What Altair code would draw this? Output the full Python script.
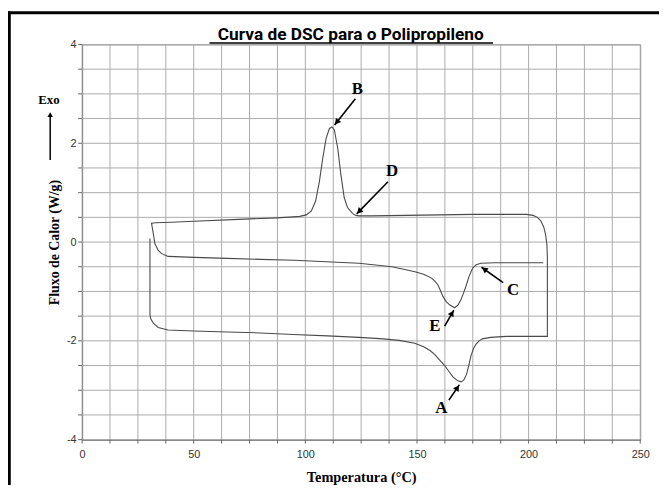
import math
import altair as alt
import pandas as pd

# ---- DSC loop (temperature in °C, heat flow in W/g), in drawing order ----
temps = [
    30.4, 30.4, 30.8, 31.9, 34.1, 38.5, 50, 65, 80, 94.5,
    110, 124, 135, 142, 149, 153, 156, 158, 160, 162.4,
    164.5, 166.1, 168.3, 169.8, 171, 172.2, 173.2, 174.2, 175.3, 176.4,
    177.8, 179.3, 183, 190, 200, 208.4,
    208.4, 208.2, 207.6, 206.8, 205.6, 204, 202, 199,
    190, 175, 160, 145, 130, 124, 122.6, 121.1, 118.9, 117.4,
    115.9, 114.5, 113, 111.9, 110.8, 109.3, 107.8, 106.3, 104.6, 102.7,
    100.4, 97.5, 94.5, 87.2, 70, 50, 40, 33, 31.1,
    31.9, 32.6, 34.1, 35.5, 38.5, 50.3, 65, 79.8, 95, 109.3,
    124, 138.8, 149.1, 153, 156.5, 158, 159.4, 160.5, 161.6, 163,
    164.6, 166.8, 168.3, 169.7, 170.8, 171.9, 173.3, 174.9, 176.5, 178.6,
    185, 195, 206.6,
]
flux = [
    0.07, -1.47, -1.56, -1.64, -1.73, -1.78, -1.8, -1.82, -1.84, -1.87,
    -1.9, -1.93, -1.96, -1.99, -2.05, -2.12, -2.2, -2.28, -2.38, -2.5,
    -2.63, -2.73, -2.81, -2.83, -2.79, -2.68, -2.5, -2.3, -2.16, -2.07,
    -2.0, -1.96, -1.93, -1.91, -1.91, -1.91,
    -0.3, -0.05, 0.15, 0.3, 0.42, 0.5, 0.54, 0.56,
    0.56, 0.56, 0.55, 0.54, 0.53, 0.53, 0.54, 0.58, 0.7, 0.9,
    1.37, 1.9, 2.27, 2.33, 2.3, 2.1, 1.7, 1.23, 0.83, 0.63,
    0.55, 0.52, 0.51, 0.49, 0.46, 0.42, 0.4, 0.39, 0.38,
    0.17, -0.03, -0.17, -0.23, -0.29, -0.31, -0.33, -0.35, -0.37, -0.4,
    -0.43, -0.5, -0.6, -0.65, -0.73, -0.79, -0.87, -0.98, -1.1, -1.2,
    -1.27, -1.33, -1.28, -1.17, -1.04, -0.9, -0.7, -0.53, -0.46, -0.43,
    -0.42, -0.42, -0.42,
]

# ---- annotations ----
label_text = ["A", "B", "C", "D", "E"]
label_x = [160.9, 123.3, 193.0, 138.8, 158.0]
label_y = [-3.37, 3.1, -0.98, 1.43, -1.71]
arrow_x1 = [164.3, 122.4, 188.6, 137.0, 162.4]
arrow_y1 = [-3.2, 2.9, -0.82, 1.22, -1.70]
arrow_x2 = [169.0, 113.1, 178.9, 123.0, 166.5]
arrow_y2 = [-2.89, 2.37, -0.51, 0.57, -1.38]

# grid / tick positions and labelled values
x_ticks = [i * 12.5 for i in range(21)]
y_ticks = [-4 + i * 0.5 for i in range(17)]
x_labels = [0, 50, 100, 150, 200, 250]
y_labels = [-4, -2, 0, 2, 4]

W, H = 565, 400
X_DOM, Y_DOM = [0, 250], [-4, 4]
kx = W / (X_DOM[1] - X_DOM[0])
ky = H / (Y_DOM[1] - Y_DOM[0])

curve = pd.DataFrame({"T": temps, "Q": flux, "o": list(range(len(temps)))})
labels = pd.DataFrame({"t": label_text, "x": label_x, "y": label_y})
gx = pd.DataFrame({"v": x_ticks})
gy = pd.DataFrame({"v": y_ticks})

heads = []
for x1, y1, x2, y2 in zip(arrow_x1, arrow_y1, arrow_x2, arrow_y2):
    dxp = (x2 - x1) * kx
    dyp = -(y2 - y1) * ky
    L = math.hypot(dxp, dyp)
    ux, uy = dxp / L, dyp / L
    ang = math.degrees(math.atan2(dxp, -dyp)) % 360
    back = 3.5
    heads.append({"x": x2 - ux * back / kx, "y": y2 + uy * back / ky, "a": ang})
arrows = pd.DataFrame({"x1": arrow_x1, "y1": arrow_y1, "x2": arrow_x2, "y2": arrow_y2})
heads = pd.DataFrame(heads)

xs = alt.Scale(domain=X_DOM, nice=False, zero=False)
ys = alt.Scale(domain=Y_DOM, nice=False, zero=False)

GRID = "#ababab"
TICK = "#666"

x_axis = alt.Axis(
    values=x_labels, format="d", grid=False, ticks=False,
    title="Temperatura (°C)", titleFont="Liberation Serif", titleFontSize=14.5,
    titleFontWeight="bold", titleColor="black", titlePadding=11,
    labelFont="Liberation Sans", labelFontSize=11, labelColor="#333",
    labelPadding=9, domainColor=TICK, labelFlush=False, labelOverlap=False,
)
y_axis = alt.Axis(
    values=y_labels, labelExpr="toString(datum.value)", grid=False, ticks=False,
    title="Fluxo de Calor (W/g)", titleFont="Liberation Serif", titleFontSize=14,
    titleFontWeight="bold", titleColor="black", titlePadding=5,
    labelFont="Liberation Sans", labelFontSize=11, labelColor="#333",
    labelPadding=6, domainColor=TICK, labelOverlap=False,
)

grid_x = alt.Chart(gx).mark_rule(color=GRID, strokeWidth=1).encode(
    x=alt.X("v:Q", scale=xs, axis=x_axis)
)
grid_y = alt.Chart(gy).mark_rule(color=GRID, strokeWidth=1).encode(
    y=alt.Y("v:Q", scale=ys, axis=y_axis)
)
tick_x = alt.Chart(gx).mark_rule(color=TICK, strokeWidth=1).encode(
    x=alt.X("v:Q", scale=xs, axis=x_axis), y=alt.value(H), y2=alt.value(H + 4)
)
tick_y = alt.Chart(gy).mark_rule(color=TICK, strokeWidth=1).encode(
    y=alt.Y("v:Q", scale=ys, axis=y_axis), x=alt.value(-4), x2=alt.value(0)
)

line = alt.Chart(curve).mark_line(color="#4a4a4a", strokeWidth=1.1).encode(
    x=alt.X("T:Q", scale=xs, axis=x_axis),
    y=alt.Y("Q:Q", scale=ys, axis=y_axis),
    order="o:Q",
)

arrow_lines = alt.Chart(arrows).mark_rule(color="black", strokeWidth=1.6).encode(
    x=alt.X("x1:Q", scale=xs, axis=x_axis), y=alt.Y("y1:Q", scale=ys, axis=y_axis),
    x2="x2:Q", y2="y2:Q",
)
arrow_heads = alt.Chart(heads).mark_point(
    shape="triangle-up", filled=True, color="black", size=45, opacity=1
).encode(
    x=alt.X("x:Q", scale=xs, axis=x_axis), y=alt.Y("y:Q", scale=ys, axis=y_axis),
    angle=alt.Angle("a:Q", scale=None),
)
label_marks = alt.Chart(labels).mark_text(
    font="Liberation Serif", fontSize=17, fontWeight="bold", color="black",
    align="center", baseline="middle",
).encode(
    x=alt.X("x:Q", scale=xs, axis=x_axis), y=alt.Y("y:Q", scale=ys, axis=y_axis),
    text="t:N",
)

one = pd.DataFrame({"k": [0]})
title_txt = alt.Chart(one).mark_text(
    text="Curva de DSC para o Polipropileno", font="Roboto", fontSize=17.5,
    fontWeight="bold", color="black", align="center", baseline="alphabetic",
).encode(x=alt.value(272), y=alt.value(-5))
title_ul = alt.Chart(one).mark_rule(color="black", strokeWidth=1.3).encode(
    x=alt.value(129), x2=alt.value(416), y=alt.value(-1.5), y2=alt.value(-1.5)
)
exo_txt = alt.Chart(one).mark_text(
    text="Exo", font="Liberation Serif", fontSize=13, fontWeight="bold",
    color="black", align="center", baseline="middle",
).encode(x=alt.value(-33.5), y=alt.value(56))
exo_line = alt.Chart(one).mark_rule(color="black", strokeWidth=1.5).encode(
    x=alt.value(-32.3), y=alt.value(117), y2=alt.value(73)
)
exo_head = alt.Chart(one).mark_point(
    shape="triangle-up", filled=True, color="black", size=30, opacity=1
).encode(x=alt.value(-32.3), y=alt.value(71))
border_left = alt.Chart(one).mark_rule(color="black", strokeWidth=3).encode(
    x=alt.value(-73.7), y=alt.value(-33.5), y2=alt.value(460)
)
border_top = alt.Chart(one).mark_rule(color="black", strokeWidth=3).encode(
    x=alt.value(-75), x2=alt.value(600), y=alt.value(-32.2), y2=alt.value(-32.2)
)

chart = alt.layer(
    grid_x, grid_y, tick_x, tick_y,
    line, arrow_lines, arrow_heads, label_marks, title_txt, title_ul,
    exo_txt, exo_line, exo_head, border_left, border_top,
).properties(
    width=W, height=H,
    autosize=alt.AutoSizeParams(type="none"),
    padding={"left": 75, "top": 34, "right": 19, "bottom": 43},
    background="white",
).configure_view(stroke="#888", strokeWidth=1)

chart.save("out.html", embed_options={"renderer": "svg", "actions": False})
